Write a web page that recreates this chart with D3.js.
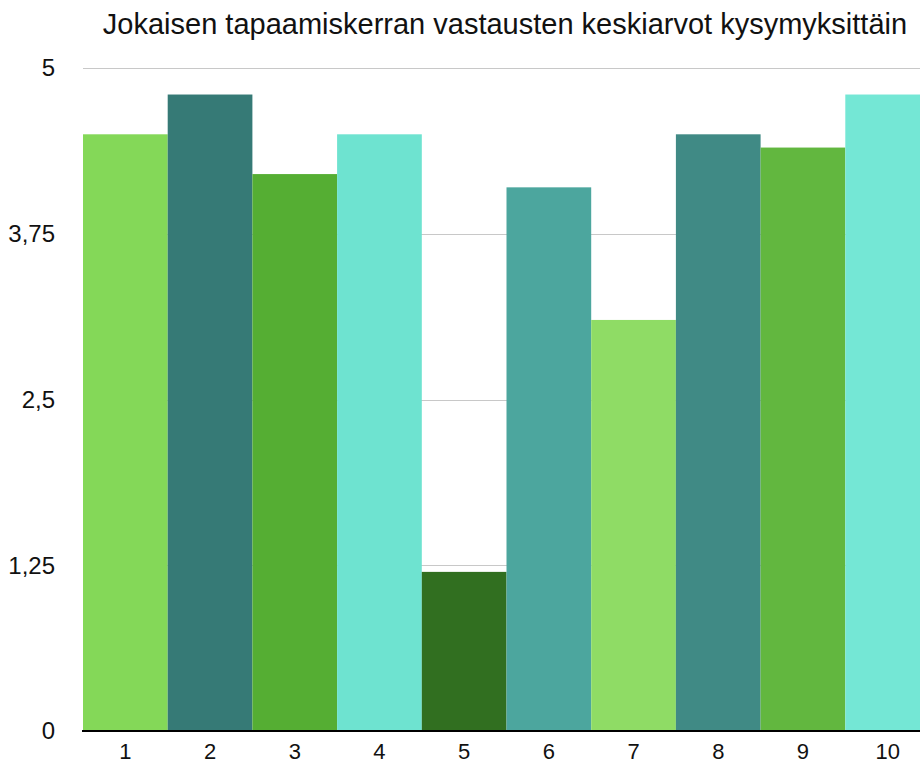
<!DOCTYPE html>
<html>
<head>
<meta charset="utf-8">
<script src="https://cdn.jsdelivr.net/npm/d3@7"></script>
<style>
  body { margin: 0; background: #fff; }
  text { font-family: "Liberation Sans", Arial, Helvetica, sans-serif; fill: #111; }
  .chart-title { font-size: 29px; }
  .tick-label { font-size: 24px; }
  .x-label { font-size: 22px; }
</style>
</head>
<body>
<div id="chart"></div>
<script>
const title = 'Jokaisen tapaamiskerran vastausten keskiarvot kysymyksittäin';
const questions = ['1', '2', '3', '4', '5', '6', '7', '8', '9', '10'];
const averages = [4.5, 4.8, 4.2, 4.5, 1.2, 4.1, 3.1, 4.5, 4.4, 4.8];
const barColors = ['#84d858', '#367a76', '#55ae33', '#6ee3d0', '#316f20',
                   '#4ca69e', '#8fdc65', '#408a85', '#62b73f', '#74e7d5'];
const yTicks = [0, 1.25, 2.5, 3.75, 5];
const yTickLabels = ['0', '1,25', '2,5', '3,75', '5'];

const width = 920, height = 765;
const margin = { top: 68, right: -10, bottom: 34, left: 83 };

const svg = d3.select('#chart').append('svg')
  .attr('width', width)
  .attr('height', height);

const xScale = d3.scaleBand()
  .domain(questions)
  .range([margin.left, width - margin.right])
  .padding(0);

const yScale = d3.scaleLinear()
  .domain([0, 5])
  .range([height - margin.bottom, margin.top]);

// gridlines
svg.append('g')
  .selectAll('line')
  .data(yTicks.slice(1))
  .enter().append('line')
  .attr('x1', margin.left)
  .attr('x2', width)
  .attr('y1', d => Math.round(yScale(d)) + 0.5)
  .attr('y2', d => Math.round(yScale(d)) + 0.5)
  .attr('stroke', '#c8c8c8')
  .attr('stroke-width', 1);

// bars
svg.append('g')
  .selectAll('rect')
  .data(averages)
  .enter().append('rect')
  .attr('x', (d, i) => xScale(questions[i]))
  .attr('y', d => yScale(d))
  .attr('width', xScale.bandwidth())
  .attr('height', d => yScale(0) - yScale(d))
  .attr('fill', (d, i) => barColors[i]);

// y tick labels
svg.append('g')
  .selectAll('text')
  .data(yTicks)
  .enter().append('text')
  .attr('class', 'tick-label')
  .attr('x', 55)
  .attr('y', d => yScale(d))
  .attr('dy', '0.35em')
  .attr('text-anchor', 'end')
  .text((d, i) => yTickLabels[i]);

// x axis
const xAxis = d3.axisBottom(xScale).tickSize(0).tickPadding(0);
const gx = svg.append('g')
  .attr('transform', 'translate(0,' + yScale(0) + ')')
  .call(xAxis);
gx.select('.domain')
  .attr('d', 'M' + (margin.left - 1) + ',0H' + width)
  .attr('stroke', '#000')
  .attr('stroke-width', 2);
gx.selectAll('.tick text')
  .attr('class', 'x-label')
  .attr('font-family', null)
  .attr('font-size', null)
  .attr('fill', '#111')
  .attr('y', 28)
  .attr('dy', 0);

// title
svg.append('text')
  .attr('class', 'chart-title')
  .attr('x', 505)
  .attr('y', 34)
  .attr('text-anchor', 'middle')
  .text(title);
</script>
</body>
</html>
